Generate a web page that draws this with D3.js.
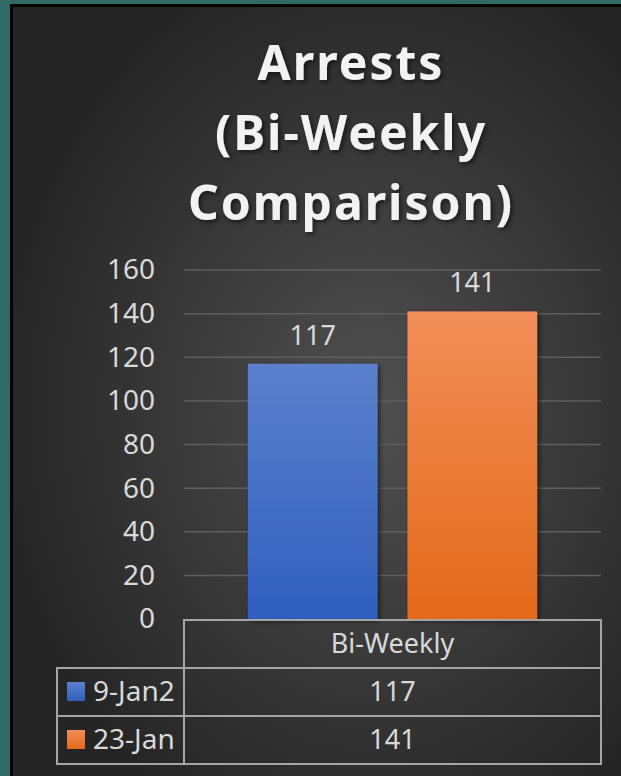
<!DOCTYPE html>
<html>
<head>
<meta charset="utf-8">
<script src="https://cdn.jsdelivr.net/npm/d3@7"></script>
<style>
  html, body { margin: 0; padding: 0; background: #2f6a65; }
  svg { display: block; }
  text { font-family: "Noto Sans", "Open Sans", sans-serif; }
</style>
</head>
<body>
<div id="chart"></div>
<script>
let width = 621;
let height = 776;
let margin = ({top: 270, right: 20, bottom: 157, left: 184});

// Chart data
let categories = ["Bi-Weekly"];
let seriesNames = ["9-Jan2", "23-Jan"];
let seriesValues = [117, 141];
let yTicks = [0, 20, 40, 60, 80, 100, 120, 140, 160];
let titleLines = ["Arrests", "(Bi-Weekly", "Comparison)"];

let svg = d3.select("#chart")
    .append("svg")
    .attr("width", width)
    .attr("height", height);

let defs = svg.append("defs");

// dark radial background of the slide panel
let bg = defs.append("radialGradient")
    .attr("id", "bgGrad")
    .attr("cx", "0.58").attr("cy", "0.52").attr("r", "0.6");
bg.append("stop").attr("offset", "0%").attr("stop-color", "#505050");
bg.append("stop").attr("offset", "100%").attr("stop-color", "#252525");

// bar gradients
let barStops = {
    "9-Jan2": ["#5b80cd", "#2f5fbe"],
    "23-Jan": ["#f18e58", "#e4691a"]
};
seriesNames.forEach(function(s, i) {
    let g = defs.append("linearGradient")
        .attr("id", "barGrad" + i)
        .attr("x1", 0).attr("y1", 0).attr("x2", 0).attr("y2", 1);
    g.append("stop").attr("offset", "0%").attr("stop-color", barStops[s][0]);
    g.append("stop").attr("offset", "100%").attr("stop-color", barStops[s][1]);
});

let shadow = defs.append("filter").attr("id", "shadow")
    .attr("x", "-20%").attr("y", "-20%").attr("width", "140%").attr("height", "140%");
shadow.append("feDropShadow")
    .attr("dx", 2).attr("dy", 2).attr("stdDeviation", 2.5)
    .attr("flood-color", "#000").attr("flood-opacity", 0.6);

// panel
svg.append("rect")
    .attr("x", 11.5).attr("y", 5.5)
    .attr("width", width).attr("height", height)
    .attr("fill", "url(#bgGrad)")
    .attr("stroke", "#000")
    .attr("stroke-width", 3);

// title
svg.append("g")
    .selectAll("text")
    .data(titleLines)
    .join("text")
    .attr("x", 351)
    .attr("y", function(d, i) { return 80 + i * 70; })
    .attr("text-anchor", "middle")
    .attr("fill", "#f2f2f2")
    .attr("font-size", 48)
    .attr("font-weight", "bold")
    .attr("letter-spacing", 2)
    .attr("filter", "url(#shadow)")
    .text(function(d) { return d; });

let yScale = d3.scaleLinear()
    .domain([0, 160])
    .range([height - margin.bottom, margin.top]);

let xScale = d3.scaleBand()
    .domain(categories)
    .range([margin.left, width - margin.right]);

let xInner = d3.scaleBand()
    .domain(seriesNames)
    .range([0, xScale.bandwidth()])
    .paddingInner(0.1875)
    .paddingOuter(0.4);

// gridlines
svg.append("g")
    .selectAll("line")
    .data(yTicks.filter(function(d) { return d > 0; }))
    .join("line")
    .attr("x1", margin.left)
    .attr("x2", width - margin.right)
    .attr("y1", function(d) { return yScale(d); })
    .attr("y2", function(d) { return yScale(d); })
    .attr("stroke", "#5e5e5e")
    .attr("stroke-width", 1.5);

// y axis labels
let yAxis = d3.axisLeft(yScale)
    .tickValues(yTicks)
    .tickSize(0)
    .tickPadding(0);

let yG = svg.append("g")
    .attr("transform", "translate(155,0)")
    .call(yAxis);
yG.select(".domain").remove();
yG.selectAll("text")
    .attr("fill", "#d9d9d9")
    .attr("font-size", 28)
    .attr("font-family", "'Noto Sans', sans-serif");

// bars
let barData = seriesNames.map(function(s, i) {
    return {cat: categories[0], series: s, value: seriesValues[i], idx: i};
});

svg.append("g")
    .selectAll("rect")
    .data(barData)
    .join("rect")
    .attr("x", function(d) { return xScale(d.cat) + xInner(d.series); })
    .attr("y", function(d) { return yScale(d.value); })
    .attr("width", xInner.bandwidth())
    .attr("height", function(d) { return yScale(0) - yScale(d.value); })
    .attr("fill", function(d) { return "url(#barGrad" + d.idx + ")"; })
    .attr("filter", "url(#shadow)");

// data labels
svg.append("g")
    .selectAll("text")
    .data(barData)
    .join("text")
    .attr("x", function(d) { return xScale(d.cat) + xInner(d.series) + xInner.bandwidth() / 2; })
    .attr("y", function(d) { return yScale(d.value) - 19; })
    .attr("text-anchor", "middle")
    .attr("fill", "#d9d9d9")
    .attr("font-size", 27)
    .text(function(d) { return d.value; });

// data table below the plot
let tableTop = yScale(0) + 1;
let rowH = 48;
let tableLeft = 57;
let tableRight = width - margin.right;
let tbl = svg.append("g");
let lineColor = "#a5a5a5";

// header row outline
tbl.append("rect")
    .attr("x", margin.left).attr("y", tableTop)
    .attr("width", tableRight - margin.left).attr("height", rowH)
    .attr("fill", "none").attr("stroke", lineColor).attr("stroke-width", 2);

tbl.append("text")
    .attr("x", xScale(categories[0]) + xScale.bandwidth() / 2)
    .attr("y", tableTop + rowH / 2 + 9)
    .attr("text-anchor", "middle")
    .attr("fill", "#d9d9d9")
    .attr("font-size", 27)
    .text(categories[0]);

let rows = tbl.selectAll("g.row")
    .data(barData)
    .join("g")
    .attr("class", "row")
    .attr("transform", function(d, i) { return "translate(0," + (tableTop + rowH * (i + 1)) + ")"; });

rows.append("rect")
    .attr("x", tableLeft).attr("y", 0)
    .attr("width", margin.left - tableLeft).attr("height", rowH)
    .attr("fill", "none").attr("stroke", lineColor).attr("stroke-width", 2);

rows.append("rect")
    .attr("x", margin.left).attr("y", 0)
    .attr("width", tableRight - margin.left).attr("height", rowH)
    .attr("fill", "none").attr("stroke", lineColor).attr("stroke-width", 2);

rows.append("rect")
    .attr("x", 67).attr("y", rowH / 2 - 10)
    .attr("width", 18).attr("height", 19)
    .attr("fill", function(d) { return "url(#barGrad" + d.idx + ")"; });

rows.append("text")
    .attr("x", 93)
    .attr("y", rowH / 2 + 9)
    .attr("fill", "#d9d9d9")
    .attr("font-size", 28)
    .text(function(d) { return d.series; });

rows.append("text")
    .attr("x", xScale(categories[0]) + xScale.bandwidth() / 2)
    .attr("y", rowH / 2 + 9)
    .attr("text-anchor", "middle")
    .attr("fill", "#d9d9d9")
    .attr("font-size", 27)
    .text(function(d) { return d.value; });
</script>
</body>
</html>
